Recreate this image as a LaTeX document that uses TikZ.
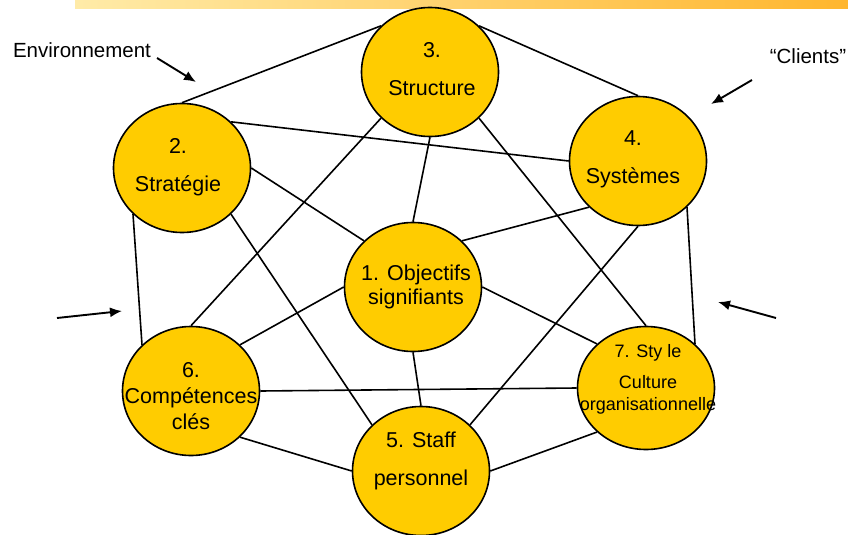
\documentclass[tikz,border=0pt]{standalone}
\usepackage{fontspec}
\setmainfont{Liberation Sans}
\usepackage{xcolor}
\usepackage{tikz}
\usetikzlibrary{arrows,arrows.meta,shapes}
\definecolor{gold}{HTML}{FFCC00}
\definecolor{bandlight}{HTML}{FFEBA8}
\definecolor{banddark}{HTML}{FFB62E}

\begin{document}
\begin{tikzpicture}[x=1pt, y=-1pt, >={Latex[length=12pt, width=10pt]},
  disc/.style={ellipse, minimum width=137pt, minimum height=129pt, inner sep=0pt, fill=gold, draw=black, line width=1.6pt},
  txt/.style={align=center, inner sep=0pt, font=\fontsize{21.5}{25}\selectfont},
  link/.style={line width=1.6pt},
  hint/.style={line width=1.9pt, ->}]

\useasboundingbox (0,0) rectangle (848,535);

\shade[left color=bandlight, right color=banddark] (75,0) rectangle (848,9);

\node[disc] (struct) at (430,72) {};
\node[disc] (strat) at (182,168) {};
\node[disc] (sys) at (638,161) {};
\node[disc] (obj) at (413,287) {};
\node[disc, minimum height=123pt] (style) at (646,388) {};
\node[disc] (comp) at (191,391) {};
\node[disc] (staff) at (421,471) {};

\draw[link] (strat.north) -- (struct.north west);
\draw[link] (struct.north east) -- (sys.north);
\draw[link] (struct.south west) -- (comp.north);
\draw[link] (struct.south) -- (obj.north);
\draw[link] (struct.south east) -- (style.north);
\draw[link] (strat.north east) -- (sys.west);
\draw[link] (strat.east) -- (obj.north west);
\draw[link] (strat.south east) -- (staff.north west);
\draw[link] (strat.south west) -- (comp.north west);
\draw[link] (sys.south west) -- (obj.north east);
\draw[link] (sys.south) -- (staff.north east);
\draw[link] (sys.south east) -- (style.north east);
\draw[link] (obj.west) -- (comp.north east);
\draw[link] (obj.east) -- (style.north west);
\draw[link] (obj.south) -- (staff.north);
\draw[link] (comp.east) -- (style.west);
\draw[link] (comp.south east) -- (staff.west);
\draw[link] (staff.east) -- (style.south west);

\node[txt] (t3) at (432,69) {3.\\[13pt]Structure};
\node[txt] (t2) at (178,167) {2.\\[13pt]Stratégie};
\node[txt] (t4) at (633,159) {4.\\[13pt]Systèmes};
\node[txt] (t1) at (416,287) {1. Objectifs\\[-1pt]signifiants};
\node[txt, font=\fontsize{18}{22}\selectfont] (t7) at (648,379) {7. Sty le\\[9pt]Culture\\organisationnelle};
\node[txt, font=\fontsize{21.5}{26}\selectfont] (t6) at (191,396) {6.\\Compétences\\clés};
\node[txt] (t5) at (421,461) {5. Staff\\[13pt]personnel};

\node[txt, font=\fontsize{20.5}{24}\selectfont] (env) at (82,50) {Environnement};
\node[txt, font=\fontsize{20.5}{24}\selectfont] (cli) at (808,56) {“Clients”};

\coordinate (envfrom) at (157,58);
\coordinate (envto) at (196,82);
\coordinate (clifrom) at (752,80);
\coordinate (clito) at (711,104);
\coordinate (leftfrom) at (57,318);
\coordinate (leftto) at (122,311);
\coordinate (rightfrom) at (776,318);
\coordinate (rightto) at (718,302);

\draw[hint] (envfrom) -- (envto);
\draw[hint] (clifrom) -- (clito);
\draw[hint] (leftfrom) -- (leftto);
\draw[hint] (rightfrom) -- (rightto);

\end{tikzpicture}
\end{document}
